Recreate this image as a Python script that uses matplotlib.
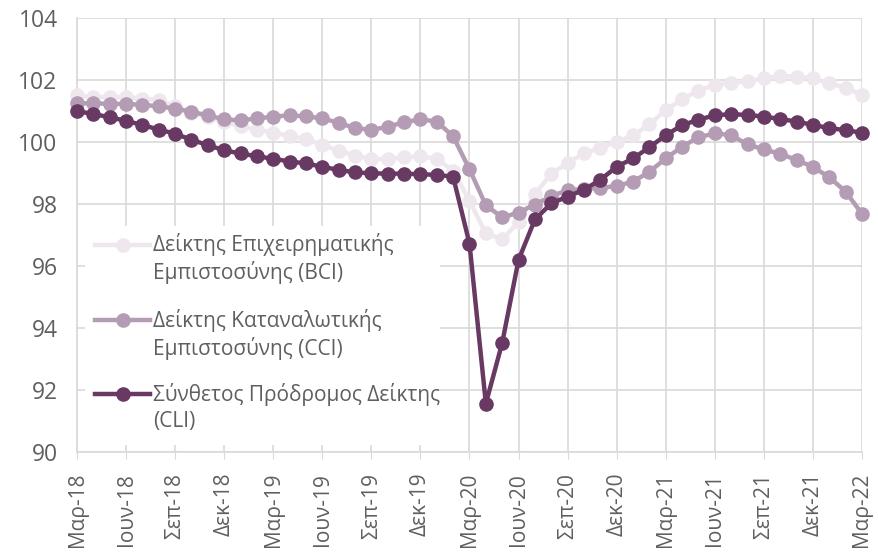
import matplotlib
matplotlib.use("Agg")
import matplotlib.pyplot as plt
from matplotlib.lines import Line2D
from matplotlib.patches import Rectangle
import numpy as np

plt.rcParams['font.family'] = ['Open Sans', 'DejaVu Sans']

tick_labels = ["Μαρ-18", "Ιουν-18", "Σεπ-18", "Δεκ-18", "Μαρ-19", "Ιουν-19", "Σεπ-19", "Δεκ-19",
               "Μαρ-20", "Ιουν-20", "Σεπ-20", "Δεκ-20", "Μαρ-21", "Ιουν-21", "Σεπ-21", "Δεκ-21", "Μαρ-22"]

bci = [101.5, 101.45, 101.45, 101.45, 101.4, 101.35, 101.15, 100.95, 100.8, 100.65,
       100.5, 100.4, 100.3, 100.2, 100.1, 99.9, 99.72, 99.56, 99.45, 99.45,
       99.5, 99.54, 99.46, 99.07, 98.1, 97.05, 96.86, 97.42, 98.32, 98.97,
       99.33, 99.63, 99.81, 100.0, 100.21, 100.57, 101.03, 101.38, 101.66, 101.84,
       101.91, 101.96, 102.05, 102.13, 102.11, 102.05, 101.89, 101.75, 101.52]

cci = [101.25, 101.25, 101.23, 101.23, 101.2, 101.15, 101.08, 100.97, 100.86, 100.73,
       100.7, 100.76, 100.82, 100.86, 100.83, 100.76, 100.62, 100.45, 100.39, 100.49,
       100.64, 100.73, 100.66, 100.18, 99.12, 97.96, 97.57, 97.72, 97.98, 98.25,
       98.45, 98.48, 98.52, 98.58, 98.72, 99.04, 99.47, 99.85, 100.15, 100.28,
       100.22, 99.92, 99.76, 99.62, 99.42, 99.2, 98.86, 98.4, 97.68]

cli = [101.0, 100.9, 100.8, 100.68, 100.55, 100.4, 100.27, 100.07, 99.9, 99.73,
       99.63, 99.54, 99.46, 99.37, 99.31, 99.2, 99.1, 99.02, 98.99, 98.98,
       98.98, 98.96, 98.94, 98.88, 96.72, 91.56, 93.52, 96.2, 97.5, 98.02,
       98.24, 98.46, 98.78, 99.2, 99.47, 99.83, 100.22, 100.54, 100.72, 100.86,
       100.9, 100.87, 100.82, 100.74, 100.66, 100.55, 100.45, 100.38, 100.3]

series_names = ["Δείκτης Επιχειρηματικής\nΕμπιστοσύνης (BCI)",
                "Δείκτης Καταναλωτικής\nΕμπιστοσύνης (CCI)",
                "Σύνθετος Πρόδρομος Δείκτης\n(CLI)"]
colors = ["#EEE8EE", "#B49CB4", "#673963"]
text_col = "#5f5f5f"
grid_col = "#D9D9D9"

W, H = 879, 553
AX_L, AX_R, AX_T, AX_B = 77, 862, 18, 452

fig = plt.figure(figsize=(W / 100, H / 100), dpi=100)
ax = fig.add_axes([AX_L / W, 1 - AX_B / H, (AX_R - AX_L) / W, (AX_B - AX_T) / H])

def fx(px):
    return (px - AX_L) / (AX_R - AX_L)

def fy(py):
    return (AX_B - py) / (AX_B - AX_T)

x = np.arange(len(cli))
for i, (vals, col) in enumerate(zip([bci, cci, cli], colors)):
    ax.plot(x, vals, color=col, lw=3.2, marker='o', markersize=9.5,
            zorder=3 + i, clip_on=False)

ax.set_xlim(0, len(cli) - 1)
ax.set_ylim(90, 104)
ax.set_yticks(np.arange(90, 105, 2))
ax.set_yticklabels([f"{v:d}" for v in range(90, 105, 2)])
ax.set_xticks(np.arange(0, len(cli), 3))
ax.set_xticklabels(tick_labels, rotation=90)

ax.grid(True, color=grid_col, lw=1.2, zorder=0)
ax.set_axisbelow(True)
for s in ['top', 'right']:
    ax.spines[s].set_visible(False)
for s in ['left', 'bottom']:
    ax.spines[s].set_color(grid_col)
    ax.spines[s].set_linewidth(1.2)

ax.tick_params(axis='y', length=0, pad=14, labelsize=16.5, labelcolor=text_col)
ax.tick_params(axis='x', length=5, color=grid_col, pad=10, labelsize=15, labelcolor=text_col)

# legend box (manual, to align handles with the first text line)
ax.add_patch(Rectangle((fx(85), fy(445)), fx(440) - fx(85), fy(226) - fy(445),
                       transform=ax.transAxes, facecolor='white', edgecolor='none',
                       zorder=8, clip_on=False))
entry_y = [(245, 273), (320, 348), (394, 422)]
for name, col, (y1, y2) in zip(series_names, colors, entry_y):
    ax.add_line(Line2D([fx(95), fx(150)], [fy(y1), fy(y1)], transform=ax.transAxes,
                       color=col, lw=3.2, zorder=9, clip_on=False))
    ax.add_line(Line2D([fx(122.5)], [fy(y1)], transform=ax.transAxes, color=col,
                       marker='o', markersize=9.5, zorder=9, clip_on=False))
    for line, yy in zip(name.split("\n"), (y1, y2)):
        ax.text(fx(153), fy(yy), line, transform=ax.transAxes, ha='left', va='center',
                fontsize=15, color=text_col, zorder=10)

fig.savefig("out.png", dpi=100)
